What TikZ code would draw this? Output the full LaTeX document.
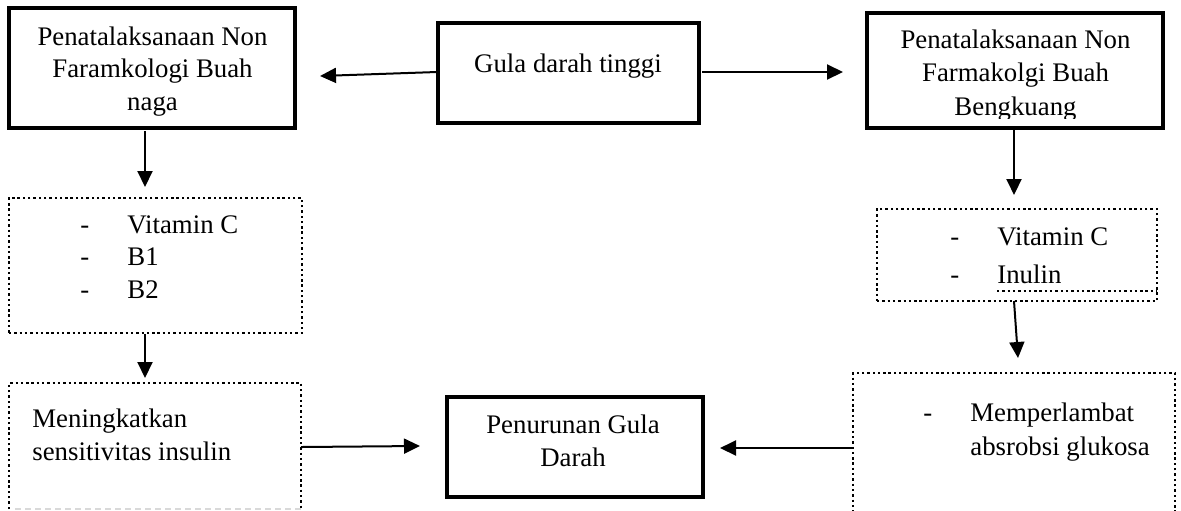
\documentclass[tikz,border=0pt]{standalone}
\usepackage{fontspec}
\setmainfont{Liberation Serif}
\usetikzlibrary{arrows.meta,calc}
\newcommand\itm[1]{\makebox[23.5pt][l]{-}#1}
\newcommand\fs[1]{\fontsize{13.4}{#1}\selectfont}
\begin{document}
\begin{tikzpicture}[x=0.5pt,y=-0.5pt,
  thickbox/.style={draw, line width=1.6pt, rectangle, inner sep=0pt, outer sep=0pt},
  dotbox/.style={draw, line width=1.3pt, dash pattern=on 1.2pt off 1.45pt, rectangle, inner sep=0pt, outer sep=0pt},
  dotline/.style={line width=1.3pt, dash pattern=on 1.2pt off 1.45pt},
  hidebox/.style={rectangle, inner sep=0pt, outer sep=0pt},
  txt/.style={inner sep=0pt, anchor=north, align=center},
  ltxt/.style={inner sep=0pt, anchor=north west, align=left},
  arr/.style={line width=1pt, -{Triangle[length=8pt,width=7.5pt]}}]
\useasboundingbox (0,0) rectangle (1181,510);
\clip (0,0) rectangle (1181,510);

% boxes
\node[thickbox, minimum width=143pt, minimum height=60pt] (A) at (152,68) {};
\node[thickbox, minimum width=130.5pt, minimum height=50pt] (gula) at (568.5,73) {};
\node[thickbox, minimum width=148pt, minimum height=57.5pt] (B) at (1015,70.5) {};
\node[dotbox, minimum width=146.5pt, minimum height=67.5pt] (C) at (155.5,265.5) {};
\node[dotbox, minimum width=140pt, minimum height=46pt] (D) at (1017,255) {};
\node[dotbox, minimum width=161pt, minimum height=78.5pt] (E) at (1014,451.5) {};
\node[hidebox, minimum width=146pt, minimum height=63pt] (F) at (155,446) {};
\node[thickbox, minimum width=128pt, minimum height=50pt] (G) at (575,447) {};

% F box: dotted sides and top, faint bottom
\draw[dotline] (F.south west) -- (F.north west) -- (F.north east) -- (F.south east);
\draw[black!15, line width=0.6pt, dash pattern=on 3pt off 2pt] ($(F.south west)+(6,0)$) -- (F.south east);

% dotted underline remnant in D
\draw[dotline] ($(D.north east)+(-160,82)$) -- ($(D.north east)+(0,82)$);

% texts
\node[txt, font={\fs{16.25}}] (At) at (152.5,22.25) {\strut Penatalaksanaan Non\\Faramkologi Buah\\naga};
\node[txt, font={\fs{16.25}}] (gulat) at (568,49.25) {\strut Gula darah tinggi};
\begin{scope}
  \clip (868,14) rectangle (1162,118);
  \node[txt, font={\fs{16.75}}] (Bt) at (1015.5,24.55) {\strut Penatalaksanaan Non\\Farmakolgi Buah\\Bengkuang};
\end{scope}
\node[ltxt, font={\fs{16.25}}] (Ct) at (80,210.25) {\strut\itm{Vitamin C}\\\itm{B1}\\\itm{B2}};
\node[ltxt, font={\fs{19}}] (Dt) at (950,218.4) {\strut\itm{Vitamin C}\\\itm{Inulin}};
\node[ltxt, font={\fs{17}}] (Et) at (923,397.2) {\strut\itm{Memperlambat}\\\hspace*{23.5pt}absrobsi glukosa};
\node[ltxt, font={\fs{16.5}}] (Ft) at (32,403.9) {\strut Meningkatkan\\sensitivitas insulin};
\node[txt, font={\fs{16.5}}] (Gt) at (573,409.9) {\strut Penurunan Gula\\Darah};

% connectors
\draw[arr] ($(gula.west)+(-1,-1)$) -- ($(A.east)+(25,8)$);
\draw[arr] ($(gula.east)+(3,-1)$) -- ($(B.west)+(-24,1.5)$);
\draw[arr] ($(A.south)+(-7,3)$) -- ($(C.north)+(-10.5,-11)$);
\draw[arr] ($(B.south)+(-1,0)$) -- ($(D.north)+(-3,-14)$);
\draw[arr] ($(C.south)+(-10.5,1)$) -- ($(F.north)+(-10,-5)$);
\draw[arr] ($(D.south)+(-3,0)$) -- ($(E.north)+(4,-15)$);
\draw[arr] ($(F.east)+(0,1)$) -- ($(G.west)+(-27,-1)$);
\draw[arr] ($(E.west)+(0,-3.5)$) -- ($(G.east)+(17,1)$);
\end{tikzpicture}
\end{document}
